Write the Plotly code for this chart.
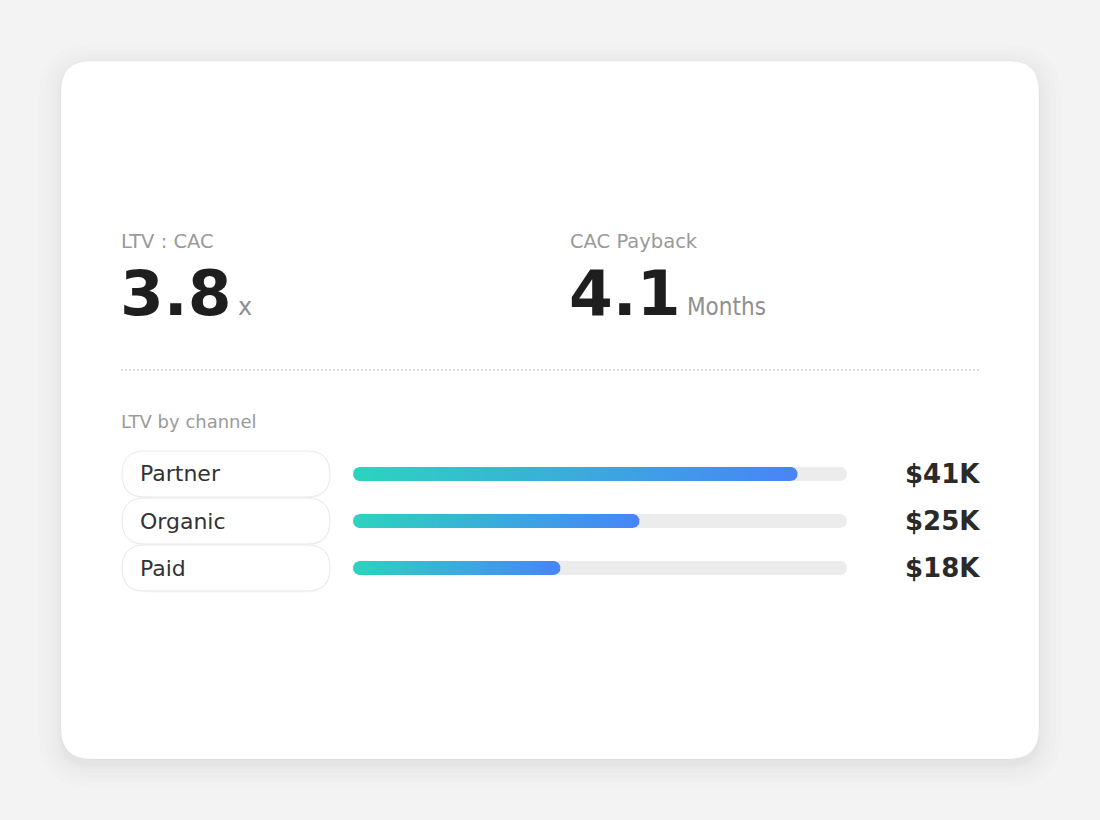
import numpy as np
import plotly.graph_objects as go

# ---------------- data ----------------
kpi_labels = ["LTV : CAC", "CAC Payback"]
kpi_values = ["3.8", "4.1"]
kpi_units = ["x", "Months"]

channels = ["Partner", "Organic", "Paid"]
ltv_k = [41, 25, 18]                 # $K labels
bar_share = [0.90, 0.58, 0.42]       # bar fill share of the track
section_title = "LTV by channel"

# ---------------- layout helpers ----------------
W, H = 1100, 820
def px(x):
    return x / W
def py(y):
    return 1 - y / H

def rounded_path(x0, y0, x1, y1, r):
    def P(x, y):
        return f"{px(x):.5f},{py(y):.5f}"
    return (f"M {P(x0 + r, y0)} L {P(x1 - r, y0)} Q {P(x1, y0)} {P(x1, y0 + r)} "
            f"L {P(x1, y1 - r)} Q {P(x1, y1)} {P(x1 - r, y1)} "
            f"L {P(x0 + r, y1)} Q {P(x0, y1)} {P(x0, y1 - r)} "
            f"L {P(x0, y0 + r)} Q {P(x0, y0)} {P(x0 + r, y0)} Z")

shapes = []
# card shadow (soft)
for spread, alpha in [(22, 0.006), (17, 0.007), (12, 0.008), (8, 0.009), (4, 0.010), (1, 0.014)]:
    shapes.append(dict(type="path", xref="paper", yref="paper", layer="below",
                       path=rounded_path(61 - spread, 61 - spread + 6, 1039 + spread, 759 + spread + 6, 30 + spread),
                       fillcolor=f"rgba(0,0,0,{alpha})", line=dict(width=0)))
# card
shapes.append(dict(type="path", xref="paper", yref="paper", layer="below",
                   path=rounded_path(61, 61, 1039, 759, 30),
                   fillcolor="#ffffff", line=dict(color="rgba(0,0,0,0.03)", width=1)))
# dotted divider
shapes.append(dict(type="line", xref="paper", yref="paper", layer="below",
                   x0=px(121), x1=px(979), y0=py(370), y1=py(370),
                   line=dict(color="#dcdcdc", width=2, dash="2px,2px")))

# ---------------- rows ----------------
row_top, row_h = 450.5, 47
row_centers = [row_top + row_h * (i + 0.5) for i in range(len(channels))]

annotations = []
for i, ch in enumerate(channels):
    cy = row_centers[i]
    shapes.append(dict(type="path", xref="paper", yref="paper", layer="below",
                       path=rounded_path(122, cy - 22.5, 330, cy + 24.5, 23),
                       fillcolor="rgba(0,0,0,0.03)", line=dict(width=0)))
    shapes.append(dict(type="path", xref="paper", yref="paper", layer="below",
                       path=rounded_path(122, cy - 23, 330, cy + 23, 23),
                       fillcolor="#ffffff", line=dict(color="#e8e8e8", width=1)))
    annotations.append(dict(xref="paper", yref="paper", x=px(138), y=py(cy),
                            xanchor="left", yanchor="middle", showarrow=False,
                            text=ch, font=dict(family="DejaVu Sans", size=22, color="#333333")))
    annotations.append(dict(xref="paper", yref="paper", x=px(982), y=py(cy),
                            xanchor="right", yanchor="middle", showarrow=False,
                            text=f"<b>${ltv_k[i]}K</b>",
                            font=dict(family="DejaVu Sans", size=26, color="#2a2a2a")))

# ---------------- KPI header ----------------
kpi_x = [121, 570]
for i in range(2):
    annotations.append(dict(xref="paper", yref="paper", x=px(kpi_x[i] - 2), y=py(241),
                            xanchor="left", yanchor="middle", showarrow=False,
                            text=kpi_labels[i],
                            font=dict(family="DejaVu Sans", size=19.5, color="#9a9a9a")))
    unit_font = "DejaVu Sans" if kpi_units[i] == "x" else "DejaVu Sans Condensed"
    annotations.append(dict(xref="paper", yref="paper", x=px(kpi_x[i] - 3), y=py(332),
                            xanchor="left", yanchor="bottom", showarrow=False,
                            text=(f"<b>{kpi_values[i]}</b>"
                                  f"<span style='font-size:20px'> </span>"
                                  f"<span style='font-size:24px;color:#8f8f8f;font-family:{unit_font}'>{kpi_units[i]}</span>"),
                            font=dict(family="DejaVu Sans", size=63, color="#1e1e1e")))

annotations.append(dict(xref="paper", yref="paper", x=px(119), y=py(421),
                        xanchor="left", yanchor="middle", showarrow=False,
                        text=section_title,
                        font=dict(family="DejaVu Sans", size=18, color="#9a9a9a")))

# ---------------- bars (rounded, gradient) ----------------
track_x0, track_x1 = 353, 847
bar_h_px = 14
rx = (bar_h_px / 2) / (track_x1 - track_x0)   # in x-data units (range 0..1)
ry = (bar_h_px / 2) / row_h                   # in category units

def capsule(length, yc):
    t1 = np.linspace(np.pi / 2, 3 * np.pi / 2, 24)
    t2 = np.linspace(-np.pi / 2, np.pi / 2, 24)
    xs = np.concatenate([rx + rx * np.cos(t1), (length - rx) + rx * np.cos(t2)])
    ys = np.concatenate([yc - ry * np.sin(t1), yc - ry * np.sin(t2)])
    xs = np.append(xs, xs[0]); ys = np.append(ys, ys[0])
    return xs, ys

fig = go.Figure()
for i, ch in enumerate(channels):
    xs, ys = capsule(1.0, i)
    fig.add_trace(go.Scatter(x=xs, y=ys, mode="lines", fill="toself",
                             fillcolor="#ececec", line=dict(width=0, color="#ececec"),
                             hoverinfo="skip", showlegend=False))
for i, ch in enumerate(channels):
    xs, ys = capsule(bar_share[i], i)
    fig.add_trace(go.Scatter(x=xs, y=ys, mode="lines", fill="toself",
                             fillgradient=dict(type="horizontal",
                                               colorscale=[[0, "#2dd3bf"], [1, "#4884f8"]]),
                             line=dict(width=0, color="rgba(0,0,0,0)"),
                             hoverinfo="skip", showlegend=False, name=ch))

fig.update_layout(
    width=W, height=H,
    margin=dict(l=0, r=0, t=0, b=0),
    paper_bgcolor="#f3f3f3",
    plot_bgcolor="rgba(0,0,0,0)",
    shapes=shapes,
    annotations=annotations,
    xaxis=dict(domain=[px(track_x0), px(track_x1)], range=[0, 1], visible=False, fixedrange=True),
    yaxis=dict(domain=[py(row_top + row_h * 3), py(row_top)], range=[2.5, -0.5],
               visible=False, fixedrange=True),
    showlegend=False,
)

fig.write_html("out.html", config={"displayModeBar": False},
               post_script="document.body.style.margin='0';document.body.style.background='#f3f3f3';document.body.style.overflow='hidden';")
